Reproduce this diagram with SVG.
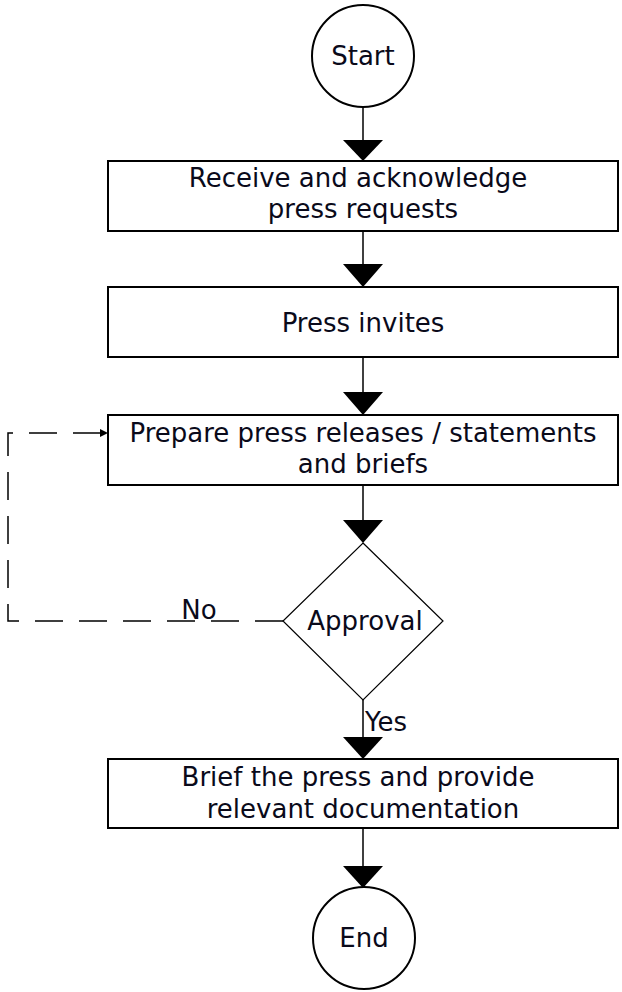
<svg xmlns="http://www.w3.org/2000/svg" width="622" height="992" viewBox="0 0 622 992">
  <style>
    .box { fill: #fff; stroke: #000; stroke-width: 2; }
    .term { fill: #fff; stroke: #000; stroke-width: 2; }
    .dec { fill: #fff; stroke: #000; stroke-width: 1.2; }
    .lbl { font-family: "DejaVu Sans", Verdana, sans-serif; font-size: 26px; fill: #0a0a1a; text-anchor: middle; }
    .edge { stroke: #000; stroke-width: 1.5; fill: none; }
    .head { fill: #000; }
    .dash { stroke: #000; stroke-width: 1.5; fill: none; stroke-dasharray: 28 16; }
  </style>
  <defs>
    <marker id="smallArrow" markerWidth="8" markerHeight="8" refX="7" refY="4" orient="auto" markerUnits="userSpaceOnUse">
      <path d="M0,0 L8,4 L0,8 Z" fill="#000"/>
    </marker>
  </defs>

  <rect width="622" height="992" fill="#fff"/>

  <!-- connectors -->
  <g id="connectors">
    <line class="edge" x1="363" y1="108" x2="363" y2="142"/>
    <polygon class="head" points="343,140 383,140 363,161"/>

    <line class="edge" x1="363" y1="231" x2="363" y2="266"/>
    <polygon class="head" points="343,264 383,264 363,287"/>

    <line class="edge" x1="363" y1="357" x2="363" y2="394"/>
    <polygon class="head" points="343,392 383,392 363,415"/>

    <line class="edge" x1="363" y1="485" x2="363" y2="522"/>
    <polygon class="head" points="343,520 383,520 363,543"/>

    <line class="edge" x1="363" y1="700" x2="363" y2="740"/>
    <polygon class="head" points="343,737 383,737 363,759"/>

    <line class="edge" x1="363" y1="828" x2="363" y2="868"/>
    <polygon class="head" points="343,866 383,866 363,888"/>

    <!-- rejection loop back to preparation -->
    <path class="dash" d="M283,621 H8 V433 H107" marker-end="url(#smallArrow)"/>
  </g>

  <g id="start">
    <circle class="term" cx="363" cy="56" r="51"/>
    <text class="lbl" x="363" y="65">Start</text>
  </g>

  <g id="receive">
    <rect class="box" x="108" y="161" width="510" height="70"/>
    <text class="lbl" x="358" y="187">Receive and acknowledge</text>
    <text class="lbl" x="363" y="218">press requests</text>
  </g>

  <g id="invites">
    <rect class="box" x="108" y="287" width="510" height="70"/>
    <text class="lbl" x="363" y="332">Press invites</text>
  </g>

  <g id="prepare">
    <rect class="box" x="108" y="415" width="510" height="70"/>
    <text class="lbl" x="363" y="442">Prepare press releases / statements</text>
    <text class="lbl" x="363" y="473">and briefs</text>
  </g>

  <g id="approval">
    <polygon class="dec" points="363,543 443,621 363,700 283,621"/>
    <text class="lbl" x="365" y="630">Approval</text>
  </g>

  <g id="labels">
    <text class="lbl" x="199" y="619">No</text>
    <text class="lbl" x="386" y="731">Yes</text>
  </g>

  <g id="brief">
    <rect class="box" x="108" y="759" width="510" height="69"/>
    <text class="lbl" x="358" y="786">Brief the press and provide</text>
    <text class="lbl" x="363" y="818">relevant documentation</text>
  </g>

  <g id="end">
    <circle class="term" cx="364" cy="938" r="51"/>
    <text class="lbl" x="364" y="947">End</text>
  </g>
</svg>
